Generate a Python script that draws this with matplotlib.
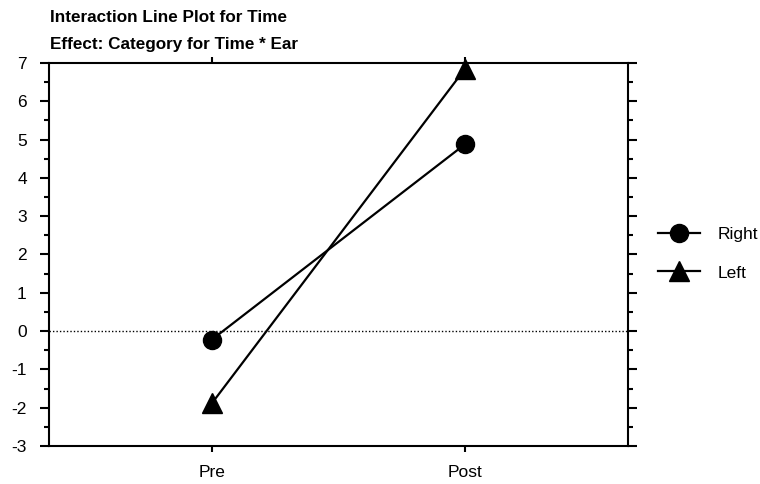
import matplotlib
matplotlib.use('Agg')
import matplotlib.pyplot as plt
from matplotlib.ticker import MultipleLocator

plt.rcParams['font.family'] = ['Liberation Sans', 'DejaVu Sans']
plt.rcParams['axes.unicode_minus'] = False

# datos
tiempos = ['Pre', 'Post']
derecho = [-0.22, 4.88]
izquierdo = [-1.88, 6.85]
series = {'Right': (derecho, 'o'), 'Left': (izquierdo, '^')}

fig = plt.figure(figsize=(7.6, 4.84), dpi=100)
ax = fig.add_axes([0.0645, 0.0785, 0.762, 0.7915])

x = list(range(len(tiempos)))
for nombre, (vals, mk) in series.items():
    ax.plot(x, vals, color='black', lw=1.6, marker=mk, ms=13 if mk == 'o' else 14,
            label=nombre, clip_on=False, zorder=3)

ax.axhline(0, color='black', lw=1, ls=(0, (1, 1.5)), zorder=1)

ax.set_xlim(-0.644, 1.644)
ax.set_ylim(-3, 7)
ax.set_xticks(x)
ax.set_xticklabels(tiempos)
ax.yaxis.set_major_locator(MultipleLocator(1))
ax.yaxis.set_minor_locator(MultipleLocator(0.5))

for s in ax.spines.values():
    s.set_linewidth(1.5)

ax.tick_params(axis='y', which='major', left=True, right=True, direction='out',
               length=6.5, width=1.5, labelsize=12.5, pad=9.5)
ax.tick_params(axis='y', which='minor', left=True, right=True, direction='out',
               length=3.5, width=1.5)
ax.tick_params(axis='x', which='major', top=True, bottom=True, direction='out',
               length=4, width=1.5, labelsize=12.5, pad=10)

fig.text(0.066, 0.963, 'Interaction Line Plot for Time', fontsize=12.3,
         fontweight='bold', va='center', ha='left')
fig.text(0.066, 0.909, 'Effect: Category for Time * Ear', fontsize=12.3,
         fontweight='bold', va='center', ha='left')

ax.legend(loc='center left', bbox_to_anchor=(1.025, 0.502), frameon=False,
          fontsize=12.5, handlelength=2.4, handletextpad=1.0, labelspacing=1.35,
          numpoints=1)

plt.savefig('out.png', dpi=100)
